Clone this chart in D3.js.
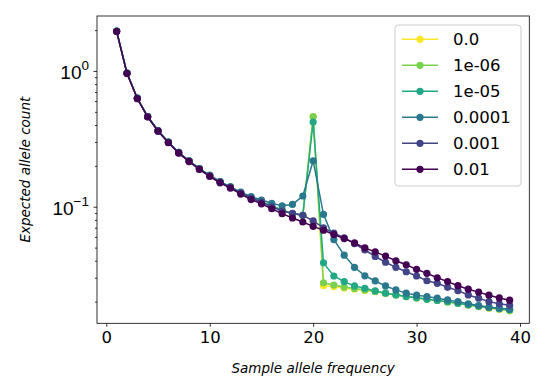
<!DOCTYPE html>
<html>
<head>
<meta charset="utf-8">
<script src="https://cdn.jsdelivr.net/npm/d3@7"></script>
<style>
  body { margin: 0; background: #fff; }
  svg { display: block; font-family: "DejaVu Sans", sans-serif; }
</style>
</head>
<body>
<div id="chart"></div>
<script>
// sample allele frequency 1..39
const freqs = d3.range(1, 40);

const labels = ["0.0", "1e-06", "1e-05", "0.0001", "0.001", "0.01"];
const colors = ["#fde725", "#7ad151", "#22a884", "#2a788e", "#414487", "#440154"];

// values
const rate0 = [1.97, 0.965, 0.630, 0.462, 0.364, 0.299, 0.251, 0.218, 0.191, 0.170,
  0.153, 0.140, 0.127, 0.117, 0.109, 0.101, 0.0945, 0.089, 0.0865, 0.461,
  0.0262, 0.0258, 0.0252, 0.0247, 0.0242, 0.0237, 0.0230, 0.0224, 0.0218, 0.0213,
  0.0208, 0.0204, 0.0199, 0.0194, 0.0188, 0.0184, 0.0179, 0.0176, 0.0172];
const rate1e6 = [1.97, 0.965, 0.630, 0.462, 0.364, 0.299, 0.251, 0.218, 0.191, 0.170,
  0.153, 0.140, 0.127, 0.117, 0.109, 0.101, 0.0945, 0.089, 0.0865, 0.462,
  0.0275, 0.0265, 0.0256, 0.0250, 0.0244, 0.0238, 0.0231, 0.0225, 0.0219, 0.0214,
  0.0208, 0.0204, 0.0199, 0.0194, 0.0189, 0.0184, 0.0180, 0.0176, 0.0172];
const rate1e5 = [1.97, 0.965, 0.630, 0.462, 0.364, 0.299, 0.251, 0.218, 0.191, 0.170,
  0.153, 0.140, 0.127, 0.117, 0.109, 0.101, 0.0945, 0.089, 0.0865, 0.421,
  0.0386, 0.0309, 0.0281, 0.0261, 0.0251, 0.0240, 0.0231, 0.0224, 0.0218, 0.0214,
  0.0208, 0.0204, 0.0200, 0.0195, 0.0189, 0.0186, 0.0181, 0.0178, 0.0174];
const rate1e4 = [1.97, 0.965, 0.630, 0.462, 0.364, 0.299, 0.251, 0.218, 0.191, 0.170,
  0.153, 0.140, 0.128, 0.119, 0.112, 0.106, 0.1015, 0.104, 0.120, 0.218,
  0.0878, 0.0573, 0.0440, 0.0358, 0.0310, 0.0284, 0.0261, 0.0244, 0.0231, 0.0223,
  0.0218, 0.0212, 0.0206, 0.0200, 0.0193, 0.0187, 0.0182, 0.0179, 0.0176];
const rate1e3 = [1.96, 0.962, 0.628, 0.460, 0.362, 0.298, 0.250, 0.217, 0.190, 0.169,
  0.152, 0.139, 0.126, 0.116, 0.108, 0.100, 0.093, 0.0895, 0.0865, 0.0786,
  0.0700, 0.0640, 0.0590, 0.0535, 0.0480, 0.0430, 0.0390, 0.0358, 0.0332, 0.0309,
  0.0285, 0.0273, 0.0255, 0.0241, 0.0224, 0.0212, 0.0200, 0.0193, 0.0188];
const rate1e2 = [1.95, 0.957, 0.624, 0.458, 0.360, 0.296, 0.248, 0.215, 0.188, 0.167,
  0.150, 0.137, 0.124, 0.113, 0.105, 0.0966, 0.0889, 0.0826, 0.0772, 0.0717,
  0.0671, 0.0624, 0.0583, 0.0541, 0.0498, 0.0465, 0.0433, 0.0400, 0.0374, 0.0346,
  0.0323, 0.0300, 0.0281, 0.0262, 0.0247, 0.0235, 0.0223, 0.0213, 0.0205];

const seriesValues = [rate0, rate1e6, rate1e5, rate1e4, rate1e3, rate1e2];

const xTicks = [0, 10, 20, 30, 40];
const yMajor = [1, 0.1];
const yMinor = [0.02, 0.03, 0.04, 0.05, 0.06, 0.07, 0.08, 0.09, 0.2, 0.3, 0.4, 0.5, 0.6, 0.7, 0.8, 0.9, 2];

const width = 550, height = 388;
const margin = { left: 97, right: 20.7, top: 16, bottom: 64.7 };

const svg = d3.select("#chart").append("svg")
  .attr("width", width).attr("height", height);

const x = d3.scaleLinear().domain([-0.9, 40.9]).range([margin.left, width - margin.right]);
const y = d3.scaleLog().domain([0.01385, 2.54]).range([height - margin.bottom, margin.top]);

const data = labels.map((name, k) => ({
  name, color: colors[k],
  values: freqs.map((f, i) => ({ f, v: seriesValues[k][i] }))
}));

// clip to the axes box
svg.append("defs").append("clipPath").attr("id", "clip")
  .append("rect")
  .attr("x", margin.left).attr("y", margin.top)
  .attr("width", width - margin.left - margin.right)
  .attr("height", height - margin.top - margin.bottom);

const plot = svg.append("g").attr("clip-path", "url(#clip)");
const line = d3.line().x(d => x(d.f)).y(d => y(d.v));

for (const s of data) {
  const g = plot.append("g");
  g.append("path").attr("d", line(s.values))
    .attr("fill", "none").attr("stroke", s.color).attr("stroke-width", 1.5);
  g.selectAll("circle").data(s.values).join("circle")
    .attr("cx", d => x(d.f)).attr("cy", d => y(d.v)).attr("r", 3.6)
    .attr("fill", s.color);
}

// axes
const xAxis = svg.append("g")
  .attr("transform", `translate(0,${height - margin.bottom})`)
  .call(d3.axisBottom(x).tickValues(xTicks).tickFormat(d3.format("d")).tickSize(3.5).tickPadding(4).tickSizeOuter(0));
xAxis.select(".domain").remove();
xAxis.selectAll("text").attr("font-size", 16.5).attr("font-family", "DejaVu Sans").attr("fill", "#000");

const yMinorG = svg.append("g")
  .attr("transform", `translate(${margin.left},0)`)
  .call(d3.axisLeft(y).tickValues(yMinor).tickFormat("").tickSize(2).tickSizeOuter(0));
yMinorG.select(".domain").remove();

const yAxis = svg.append("g")
  .attr("transform", `translate(${margin.left},0)`)
  .call(d3.axisLeft(y).tickValues(yMajor).tickFormat("").tickSize(3.5).tickSizeOuter(0));
yAxis.select(".domain").remove();

const supLabels = [["10", "0"], ["10", "\u22121"]];
yAxis.selectAll(".tick").each(function(d, i) {
  const t = d3.select(this).append("text")
    .attr("x", -8).attr("y", 7.3).attr("text-anchor", "end")
    .attr("font-size", 19).attr("fill", "#000");
  t.append("tspan").text(supLabels[i][0]);
  t.append("tspan").attr("font-size", 13.5).attr("dy", -9).text(supLabels[i][1]);
});

svg.selectAll(".tick line").attr("stroke", "#000").attr("stroke-width", 0.8);

// spines
svg.append("rect")
  .attr("x", margin.left).attr("y", margin.top)
  .attr("width", width - margin.left - margin.right)
  .attr("height", height - margin.top - margin.bottom)
  .attr("fill", "none").attr("stroke", "#000").attr("stroke-width", 0.8);

// axis labels
svg.append("text")
  .attr("x", (margin.left + width - margin.right) / 2).attr("y", 373)
  .attr("text-anchor", "middle").attr("font-size", 13.5).attr("font-style", "italic")
  .text("Sample allele frequency");

svg.append("text")
  .attr("transform", `translate(30,${(margin.top + height - margin.bottom) / 2}) rotate(-90)`)
  .attr("text-anchor", "middle").attr("font-size", 13.5).attr("font-style", "italic")
  .text("Expected allele count");

// legend
const legend = svg.append("g");
legend.append("rect")
  .attr("x", 395).attr("y", 25).attr("width", 126).attr("height", 161).attr("rx", 3.5)
  .attr("fill", "#fff").attr("fill-opacity", 0.8)
  .attr("stroke", "#ccc").attr("stroke-width", 1);

data.forEach((s, k) => {
  const cy = 39.3 + k * 26;
  legend.append("line").attr("x1", 402).attr("x2", 438).attr("y1", cy).attr("y2", cy)
    .attr("stroke", s.color).attr("stroke-width", 1.5);
  legend.append("circle").attr("cx", 420).attr("cy", cy).attr("r", 3.6).attr("fill", s.color);
  legend.append("text").attr("x", 453).attr("y", cy + 6)
    .attr("font-size", 16.5).attr("fill", "#000").text(s.name);
});
</script>
</body>
</html>
